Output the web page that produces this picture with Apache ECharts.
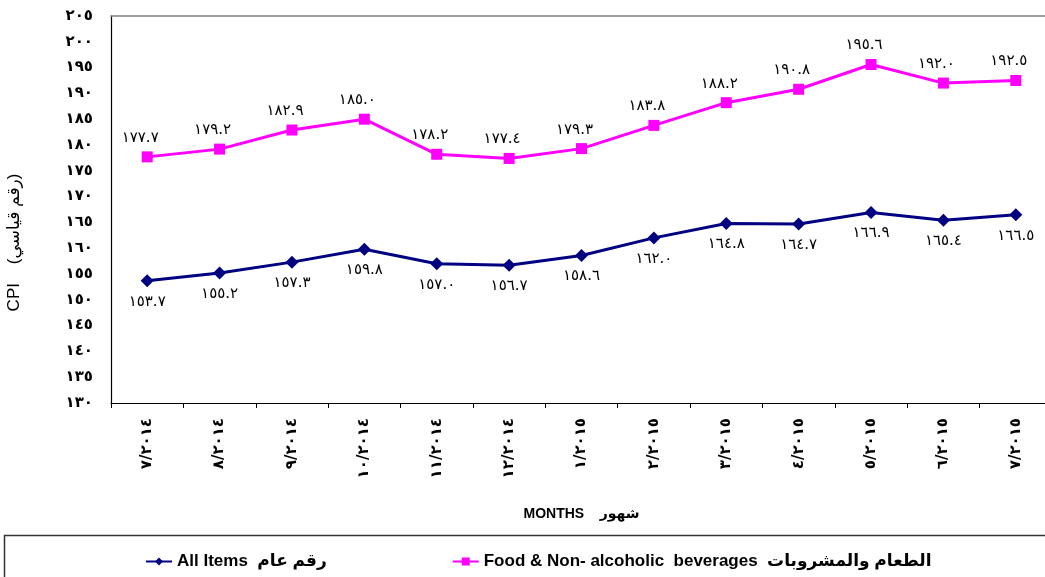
<!DOCTYPE html>
<html>
<head>
<meta charset="utf-8">
<script src="https://cdn.jsdelivr.net/npm/echarts@6/dist/echarts.min.js"></script>
<style>
html,body{margin:0;padding:0;background:#fff;}
#chart{width:1045px;height:577px;}
</style>
</head>
<body>
<div id="chart"></div>
<script>
const categories = ['٧/٢٠١٤','٨/٢٠١٤','٩/٢٠١٤','١٠/٢٠١٤','١١/٢٠١٤','١٢/٢٠١٤','١/٢٠١٥','٢/٢٠١٥','٣/٢٠١٥','٤/٢٠١٥','٥/٢٠١٥','٦/٢٠١٥','٧/٢٠١٥'];
const foodValues = [177.7, 179.2, 182.9, 185.0, 178.2, 177.4, 179.3, 183.8, 188.2, 190.8, 195.6, 192.0, 192.5];
const allItemsValues = [153.7, 155.2, 157.3, 159.8, 157.0, 156.7, 158.6, 162.0, 164.8, 164.7, 166.9, 165.4, 166.5];
const seriesNames = ['All Items  رقم عام', 'Food & Non- alcoholic  beverages  الطعام والمشروبات'];
const yMin = 130, yMax = 205, yStep = 5;

const arDigits = '٠١٢٣٤٥٦٧٨٩';
function toArabic(s){ return String(s).replace(/[0-9]/g, d => arDigits[+d]); }
function fmtVal(v){ return toArabic(v.toFixed(1)); }

const chart = echarts.init(document.getElementById('chart'), null, {renderer:'canvas'});
chart.setOption({
  backgroundColor:'#ffffff',
  animation:false,
  graphic:[{
    type:'rect', left:2, top:533, shape:{width:1060, height:60},
    style:{fill:'none', stroke:'#333', lineWidth:1.5}, z:-1
  }],
  grid:{left:111, top:16, width:941, bottom:174, containLabel:false, outerBoundsMode:'none'},
  legend:{
    left:140, top:548, itemGap:125, itemWidth:26, itemHeight:10,
    textStyle:{fontFamily:'Liberation Sans, DejaVu Sans, sans-serif', fontWeight:'bold', fontSize:17, color:'#000'},
    data:[seriesNames[0], seriesNames[1]]
  },
  xAxis:[{
    type:'category', data:categories, boundaryGap:true,
    axisLine:{lineStyle:{color:'#000', width:1.2}},
    axisTick:{show:true, length:5, lineStyle:{color:'#000'}},
    axisLabel:{rotate:90, margin:15, interval:0, fontFamily:'DejaVu Sans, sans-serif', fontWeight:'bold', fontSize:15, color:'#000'},
    name:'MONTHS    شهور', nameLocation:'middle', nameGap:104,
    nameTextStyle:{fontFamily:'Liberation Sans, DejaVu Sans, sans-serif', fontWeight:'bold', fontSize:14, color:'#000'}
  },{
    type:'category', data:categories, position:'top',
    axisLine:{lineStyle:{color:'#808080', width:1.5}},
    axisTick:{show:false}, axisLabel:{show:false}
  }],
  yAxis:{
    type:'value', min:yMin, max:yMax, interval:yStep,
    axisLine:{show:true, lineStyle:{color:'#000', width:1.2}},
    axisTick:{show:false},
    splitLine:{show:false},
    axisLabel:{margin:18, fontFamily:'DejaVu Sans, sans-serif', fontWeight:'bold', fontSize:15, color:'#000', formatter:v=>toArabic(v)},
    name:'CPI    (رقم قياسي)', nameLocation:'middle', nameGap:88, nameRotate:90,
    nameTextStyle:{fontFamily:'Liberation Sans, DejaVu Sans, sans-serif', fontSize:17, color:'#000', padding:[0,66,0,0]}
  },
  series:[{
    name:seriesNames[0], type:'line', data:allItemsValues,
    symbol:'diamond', symbolSize:13,
    lineStyle:{color:'#000080', width:3}, itemStyle:{color:'#000080'},
    label:{show:true, position:'bottom', distance:7, formatter:p=>fmtVal(p.value),
      fontFamily:'DejaVu Serif, DejaVu Sans, serif', fontSize:15, color:'#000'}
  },{
    name:seriesNames[1], type:'line', data:foodValues,
    symbol:'rect', symbolSize:11,
    lineStyle:{color:'#FF00FF', width:3}, itemStyle:{color:'#FF00FF'},
    label:{show:true, position:'top', distance:6, offset:[-7,0], formatter:p=>fmtVal(p.value),
      fontFamily:'DejaVu Serif, DejaVu Sans, serif', fontSize:15, color:'#000'}
  }]
});
</script>
</body>
</html>
